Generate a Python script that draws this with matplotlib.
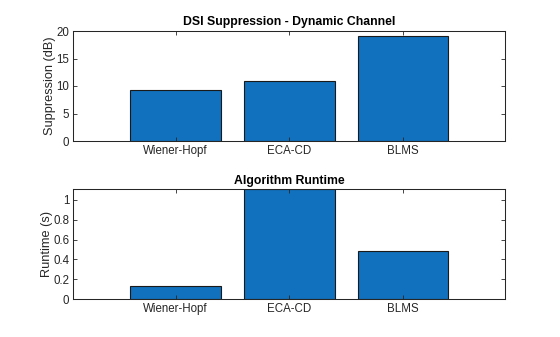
import matplotlib
matplotlib.use("Agg")
import matplotlib.pyplot as plt

algorithms = ["Wiener-Hopf", "ECA-CD", "BLMS"]
suppression_db = [9.22, 10.88, 19.09]
runtime_s = [0.128, 1.108, 0.482]

plt.rcParams['font.family'] = ['Liberation Sans', 'DejaVu Sans']
plt.rcParams['font.size'] = 8

bar_color = '#1271BE'
axis_color = '#262626'

fig = plt.figure(figsize=(5.6, 3.37), dpi=100)
W, H = 560, 337
ax1 = fig.add_axes([73.3 / W, 1 - 141 / H, 432 / W, 110 / H])
ax2 = fig.add_axes([73.3 / W, 1 - 299 / H, 432 / W, 109.7 / H])

x = [1, 2, 3]

def style(ax):
    for s in ax.spines.values():
        s.set_color(axis_color)
        s.set_linewidth(0.75)
    ax.tick_params(direction='in', top=True, right=True, length=3,
                   width=0.6, colors=axis_color, labelsize=8.3, pad=3)
    ax.set_xlim(0.1, 3.9)
    ax.set_xticks(x)
    ax.set_xticklabels(algorithms)

ax1.bar(x, suppression_db, width=0.8, color=bar_color, edgecolor='#1a1a1a', linewidth=0.8)
style(ax1)
ax1.set_ylim(0, 20)
ax1.set_yticks([0, 5, 10, 15, 20])
ax1.set_ylabel("Suppression (dB)", fontsize=9.2, color=axis_color, labelpad=0)
ax1.set_title("DSI Suppression - Dynamic Channel", fontsize=8.8, fontweight='bold', pad=4)

ax2.bar(x, runtime_s, width=0.8, color=bar_color, edgecolor='#1a1a1a', linewidth=0.8)
style(ax2)
ax2.set_ylim(0, max(runtime_s))
ax2.set_yticks([0, 0.2, 0.4, 0.6, 0.8, 1])
ax2.set_yticklabels(["0", "0.2", "0.4", "0.6", "0.8", "1"])
ax2.set_ylabel("Runtime (s)", fontsize=9.2, color=axis_color, labelpad=0)
ax2.set_title("Algorithm Runtime", fontsize=8.8, fontweight='bold', pad=4)

fig.savefig("out.png", dpi=100)
